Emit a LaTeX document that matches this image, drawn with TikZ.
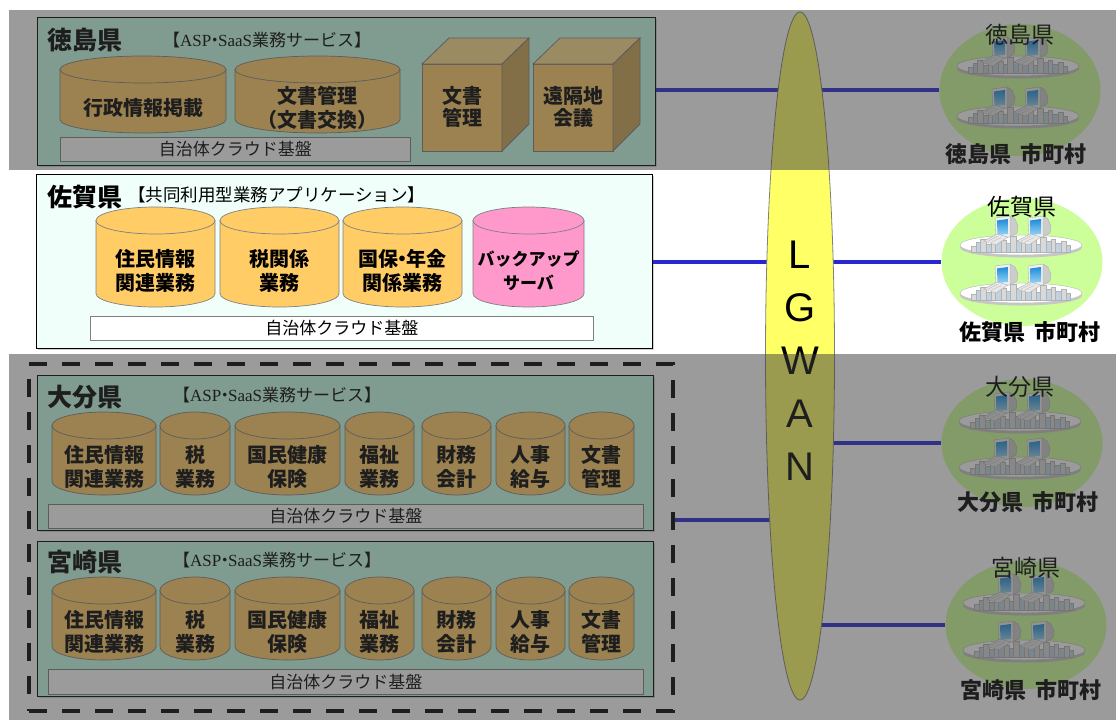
\documentclass[tikz,border=0pt]{standalone}
\usepackage{fontspec}
\newfontfamily\jp{Noto Sans CJK JP}
\newfontfamily\lat{Liberation Sans}
\newfontfamily\latserif{Liberation Serif}
\usetikzlibrary{shapes.geometric,shadows}

\definecolor{panelmint}{RGB}{200,255,232}
\definecolor{sagapanel}{RGB}{240,255,250}
\definecolor{cylorange}{RGB}{255,204,102}
\definecolor{cylpink}{RGB}{255,153,204}
\definecolor{cubetop}{RGB}{255,224,140}
\definecolor{cubeside}{RGB}{205,165,85}
\definecolor{lgwanyellow}{RGB}{255,255,102}
\definecolor{linkblue}{RGB}{40,40,210}
\definecolor{netgreen}{RGB}{204,255,153}
\definecolor{screenblue}{RGB}{30,140,215}
\definecolor{screenlight}{RGB}{150,210,245}
\definecolor{towerblue}{RGB}{190,210,225}
\definecolor{dimgrey}{RGB}{59,59,59}

\newcommand\cylry{13.5}
% database cylinder: [node options]{name}{left x}{right x}{top y}{bottom y}{fill}{label}
\newcommand\dbcyl[8][]{%
  \pgfmathsetmacro\cylcx{(#3+#4)/2}%
  \pgfmathsetmacro\cylrx{(#4-#3)/2}%
  \pgfmathsetmacro\cylyt{#5+\cylry}%
  \pgfmathsetmacro\cylyb{#6-\cylry}%
  \pgfmathsetmacro\cylym{(#5+2*\cylry+#6)/2}%
  \filldraw[cylline, fill=#7] (#3,\cylyt) -- (#3,\cylyb)
     arc[start angle=180, end angle=0, x radius=\cylrx, y radius=\cylry] -- (#4,\cylyt) -- cycle;
  \filldraw[cylline, fill=#7] (\cylcx,\cylyt) ellipse[x radius=\cylrx, y radius=\cylry];
  \node[cyltext,#1] (#2) at (\cylcx,\cylym) {#8};
}
% server cube: {name}{front left x}{front top y}{label}
\newcommand\srvcube[4]{%
  \filldraw[cubeedge, fill=cylorange] (#2,#3) rectangle ++(80,87);
  \filldraw[cubeedge, fill=cubetop] (#2,#3) -- ++(27,-26) -- ++(80,0) -- ++(-27,26) -- cycle;
  \filldraw[cubeedge, fill=cubeside] (#2+80,#3) -- ++(27,-26) -- ++(0,86) -- ++(-27,27) -- cycle;
  \node[cubetext] (#1) at (#2+40,#3+43) {#4};
}
% narrow middle dot
\newcommand\nakaguro{\kern-0.3em・\kern-0.3em}

\begin{document}
\begin{tikzpicture}[x=1pt, y=-1pt,
  panel/.style={draw=black, line width=1.1, fill=panelmint, minimum width=616, minimum height=155,
    anchor=north west, inner sep=0, drop shadow={shadow xshift=1.5pt, shadow yshift=-1.5pt, opacity=0.35}},
  basebar/.style={draw=black!50, line width=0.8, fill=white, anchor=north west, inner sep=0,
    minimum width=595, minimum height=24, font=\jp\fontsize{17}{20}\selectfont},
  cylline/.style={draw=black!50, line width=0.7},
  cubeedge/.style={draw=black!50, line width=0.8},
  cyltext/.style={font=\jp\bfseries\fontsize{20}{24}\selectfont, align=center, inner sep=0},
  cubetext/.style={font=\jp\bfseries\fontsize{20}{22}\selectfont, align=center, inner sep=0},
  prefname/.style={font=\jp\bfseries\fontsize{25}{28}\selectfont, anchor=west, inner sep=0},
  servicetag/.style={font=\jp\fontsize{17}{20}\selectfont, anchor=west, inner sep=0},
  link/.style={draw=linkblue, line width=3.5},
  netcircle/.style={ellipse, fill=netgreen, draw=none, minimum width=161, minimum height=128, inner sep=0},
  nettop/.style={font=\jp\fontsize{23}{26}\selectfont, inner sep=0},
  netbottom/.style={font=\jp\bfseries\fontsize{22}{26}\selectfont, inner sep=0},
  dimmer/.style={fill=dimgrey, fill opacity=0.51},
  pc/.pic={
    % tube casing
    \filldraw[fill=gray!40, draw=gray!70, line width=0.3] (4,-22) -- (9,-19) -- (12,-12) -- (11,-5) -- (4,-1) -- cycle;
    % front bezel and screen
    \filldraw[fill=gray!12, draw=gray!70, line width=0.3] (-11,-20) -- (4,-22) -- (4,-1) -- (-10,0) -- cycle;
    \shade[top color=screenblue, bottom color=screenlight] (-9,-17.5) -- (2,-19) -- (2,-4) -- (-8.5,-3) -- cycle;
    % keyboard
    \filldraw[fill=gray!18, draw=gray!70, line width=0.3] (-22,3) -- (-9,-4) -- (2,-1) -- (-10,7) -- cycle;
    \draw[gray!55, line width=0.3] (-18,3) -- (-8,-2) (-15,4.5) -- (-5,-0.5);
  },
  platter/.pic={
    \fill[gray!45] (0,2.5) ellipse[x radius=61, y radius=10];
    \fill[white] (0,0) ellipse[x radius=61, y radius=10];
    \draw[gray!50, line width=0.5] (0,0) ellipse[x radius=61, y radius=10];
    \foreach \bx/\bw/\bh in {-50/5/6,-41/6/13,-30/4/15,-20/5/12,-11/6/16,0/4/14,10/5/12,19/6/15,30/4/13,40/5/11}
      \filldraw[fill=gray!30, draw=gray!60, line width=0.3] (\bx,7) rectangle ++(\bw,-\bh);
    \foreach \bx/\bw/\bh in {-45/4/10,-35/5/8,-26/6/11,-15/4/9,-5/5/12,4/6/10,15/4/8,25/5/11,34/6/9,45/4/7}
      \filldraw[fill=towerblue, draw=gray!60, line width=0.3] (\bx,7) rectangle ++(\bw,-\bh);
    \pic at (-15,-7) {pc};
    \pic at (18,-7) {pc};
  }]

\useasboundingbox (0,0) rectangle (1116,720);
\fill[white] (0,0) rectangle (1116,720);

% ---------- Tokushima ----------
\node[panel, minimum width=618, minimum height=148] (tokpanel) at (37,17) {};
\node[prefname] (toktitle) at (47,40) {徳島県};
\node[servicetag] (toksub) at (163,40) {【{\latserif ASP}\nakaguro{\latserif SaaS}業務サービス】};
\dbcyl{tokA}{60}{226}{56}{133}{cylorange}{行政情報掲載}
\dbcyl{tokB}{235}{400}{56}{133}{cylorange}{文書管理\\（文書交換）}
\node[basebar, minimum width=350] (tokbar) at (60,137) {自治体クラウド基盤};
\srvcube{tokC}{422}{64}{文書\\管理}
\srvcube{tokD}{533}{64}{遠隔地\\会議}

% ---------- Saga ----------
\node[panel, fill=sagapanel, minimum width=616, minimum height=174] (sagapanel) at (36,174) {};
\node[prefname] (sagatitle) at (47,197) {佐賀県};
\node[servicetag, font=\jp\fontsize{17.5}{20}\selectfont] (sagasub) at (128,195) {【共同利用型業務アプリケーション】};
\dbcyl{sagaA}{96}{215}{207}{307}{cylorange}{住民情報\\関連業務}
\dbcyl{sagaB}{220}{339}{207}{307}{cylorange}{税関係\\業務}
\dbcyl{sagaC}{343}{462}{207}{307}{cylorange}{国保\nakaguro 年金\\関係業務}
\dbcyl[font=\jp\bfseries\fontsize{17}{24}\selectfont]{sagaD}{473}{584}{207}{307}{cylpink}{バックアップ\\サーバ}
\node[basebar, minimum width=503] (sagabar) at (90,316) {自治体クラウド基盤};

% ---------- Oita ----------
\node[panel] (oitapanel) at (37,375) {};
\node[prefname] (oitatitle) at (47,397) {大分県};
\node[servicetag] (oitasub) at (173,395) {【{\latserif ASP}\nakaguro{\latserif SaaS}業務サービス】};
\dbcyl{oitaA}{52}{156}{412}{495}{cylorange}{住民情報\\関連業務}
\dbcyl{oitaB}{160}{230}{412}{495}{cylorange}{税\\業務}
\dbcyl{oitaC}{235}{340}{412}{495}{cylorange}{国民健康\\保険}
\dbcyl{oitaD}{345}{414}{412}{495}{cylorange}{福祉\\業務}
\dbcyl{oitaE}{422}{491}{412}{495}{cylorange}{財務\\会計}
\dbcyl{oitaF}{496}{565}{412}{495}{cylorange}{人事\\給与}
\dbcyl{oitaG}{569}{634}{412}{495}{cylorange}{文書\\管理}
\node[basebar] (oitabar) at (48,504) {自治体クラウド基盤};

% ---------- Miyazaki ----------
\node[panel] (miyapanel) at (37,541) {};
\node[prefname] (miyatitle) at (47,562) {宮崎県};
\node[servicetag] (miyasub) at (173,560) {【{\latserif ASP}\nakaguro{\latserif SaaS}業務サービス】};
\dbcyl{miyaA}{52}{156}{577}{660}{cylorange}{住民情報\\関連業務}
\dbcyl{miyaB}{160}{230}{577}{660}{cylorange}{税\\業務}
\dbcyl{miyaC}{235}{340}{577}{660}{cylorange}{国民健康\\保険}
\dbcyl{miyaD}{345}{414}{577}{660}{cylorange}{福祉\\業務}
\dbcyl{miyaE}{422}{491}{577}{660}{cylorange}{財務\\会計}
\dbcyl{miyaF}{496}{565}{577}{660}{cylorange}{人事\\給与}
\dbcyl{miyaG}{569}{634}{577}{660}{cylorange}{文書\\管理}
\node[basebar, minimum height=25] (miyabar) at (48,669) {自治体クラウド基盤};

% joint group of Oita and Miyazaki
\node[draw=black, line width=4, dash pattern=on 18pt off 15pt, minimum width=644, minimum height=347,
  anchor=north west, inner sep=0] (kyushu) at (27,362) {};

% ---------- municipal networks ----------
\node[netcircle, minimum height=132] (tokcircle) at (1020,90) {};
\pic at (1018,66) {platter};
\pic at (1018,116) {platter};
\node[nettop] (toknet) at (1020,35) {徳島県};
\node[netbottom] (tokmuni) at (1016,154) {徳島県\hspace{0.45em}市町村};

\node[netcircle] (sagacircle) at (1022,262) {};
\pic at (1021,245) {platter};
\pic at (1021,293) {platter};
\node[nettop] (saganet) at (1022,207) {佐賀県};
\node[netbottom] (sagamuni) at (1030,332) {佐賀県\hspace{0.45em}市町村};

\node[netcircle] (oitacircle) at (1022,443) {};
\pic at (1020,421) {platter};
\pic at (1020,467) {platter};
\node[nettop] (oitanet) at (1020,387) {大分県};
\node[netbottom] (oitamuni) at (1028,502) {大分県\hspace{0.45em}市町村};

\node[netcircle] (miyacircle) at (1026,625) {};
\pic at (1024,603) {platter};
\pic at (1024,650) {platter};
\node[nettop] (miyanet) at (1026,568) {宮崎県};
\node[netbottom] (miyamuni) at (1031,690) {宮崎県\hspace{0.45em}市町村};

% ---------- LGWAN links ----------
\coordinate (kyjoin) at (800,520);
\draw[link] (tokpanel.east |- tokcircle.center) -- (tokcircle.west);
\draw[link] (sagapanel.east |- sagacircle.center) -- (sagacircle.west);
\draw[link] (kyushu.east |- kyjoin) -- (kyjoin);
\draw[link] (kyjoin |- oitacircle.center) -- (oitacircle.west);
\draw[link] (kyjoin |- miyacircle.center) -- (miyacircle.west);

\node[ellipse, draw=black!50, line width=0.8, fill=lgwanyellow, minimum width=69, minimum height=688,
  inner sep=0] (lgwan) at (800,356) {};
\node[font=\lat\fontsize{40}{53}\selectfont, align=center, inner sep=0] (lgwanlabel) at (800,361) {L\\G\\W\\A\\N};

% shaded-out bands above and below the Saga row
\fill[dimmer] (9,10) rectangle (1116,170);
\fill[dimmer] (9,354) rectangle (1116,720);
\end{tikzpicture}
\end{document}
